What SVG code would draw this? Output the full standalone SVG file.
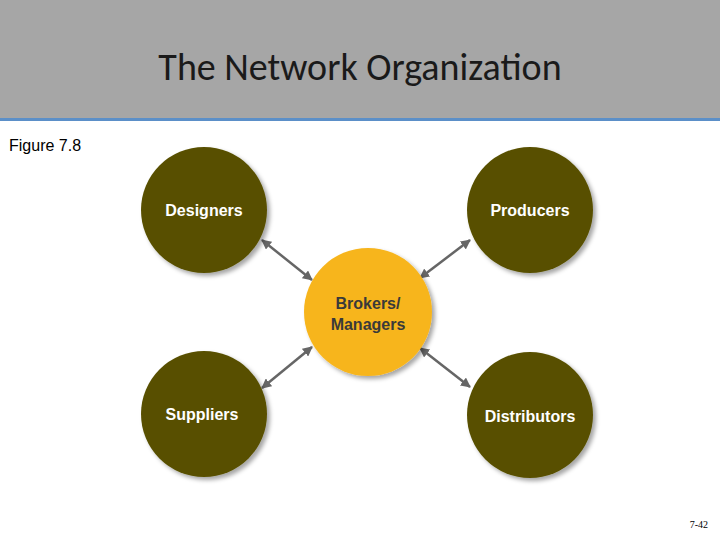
<svg xmlns="http://www.w3.org/2000/svg" width="720" height="540" viewBox="0 0 720 540">
<style>
.n{fill:#585000}
.t{font-family:"Liberation Sans",Arial,sans-serif;font-weight:bold;font-size:16px;text-anchor:middle}
.w{fill:#fff}
.c{stroke:#666;stroke-width:2.5;fill:none;marker-start:url(#a);marker-end:url(#a)}
</style>
<defs>
<marker id="a" viewBox="0 0 10 10" refX="9" refY="5" markerWidth="4" markerHeight="4" orient="auto-start-reverse"><path d="M0,0L10,5L0,10z" fill="#666"/></marker>
<filter id="s" x="-20%" y="-20%" width="150%" height="150%"><feDropShadow dx="3" dy="3" stdDeviation="2" flood-opacity="0.35"/></filter>
</defs>
<rect width="720" height="540" fill="#fff"/>
<rect width="720" height="118" fill="#a6a6a6"/>
<rect y="118" width="720" height="3" fill="#5b8fc8"/>
<text x="360" y="80" font-family="Calibri,'Liberation Sans',sans-serif" font-size="38" text-anchor="middle" fill="#1a1a1a">The Network Organization</text>
<text x="9" y="151" font-family="'Liberation Sans',Arial,sans-serif" font-size="16" fill="#000">Figure 7.8</text>
<g id="connectors">
<line class="c" x1="262" y1="240" x2="312" y2="280"/>
<line class="c" x1="470" y1="240" x2="420" y2="278"/>
<line class="c" x1="262" y1="388" x2="312" y2="347"/>
<line class="c" x1="470" y1="387" x2="420" y2="348"/>
</g>
<g id="designers"><circle class="n" cx="204" cy="210" r="63" filter="url(#s)"/><text class="t w" x="204" y="216">Designers</text></g>
<g id="producers"><circle class="n" cx="530" cy="210" r="63" filter="url(#s)"/><text class="t w" x="530" y="216">Producers</text></g>
<g id="suppliers"><circle class="n" cx="204" cy="414" r="63" filter="url(#s)"/><text class="t w" x="202" y="420">Suppliers</text></g>
<g id="distributors"><circle class="n" cx="530" cy="415" r="63" filter="url(#s)"/><text class="t w" x="530" y="422">Distributors</text></g>
<g id="brokers"><circle cx="368" cy="312" r="64" fill="#f7b51e" filter="url(#s)"/><text class="t" x="368" y="309" fill="#3a3a3a">Brokers/</text><text class="t" x="368" y="330" fill="#3a3a3a">Managers</text></g>
<text x="708" y="528" font-family="'Liberation Serif',serif" font-size="10" text-anchor="end">7-42</text>
</svg>
